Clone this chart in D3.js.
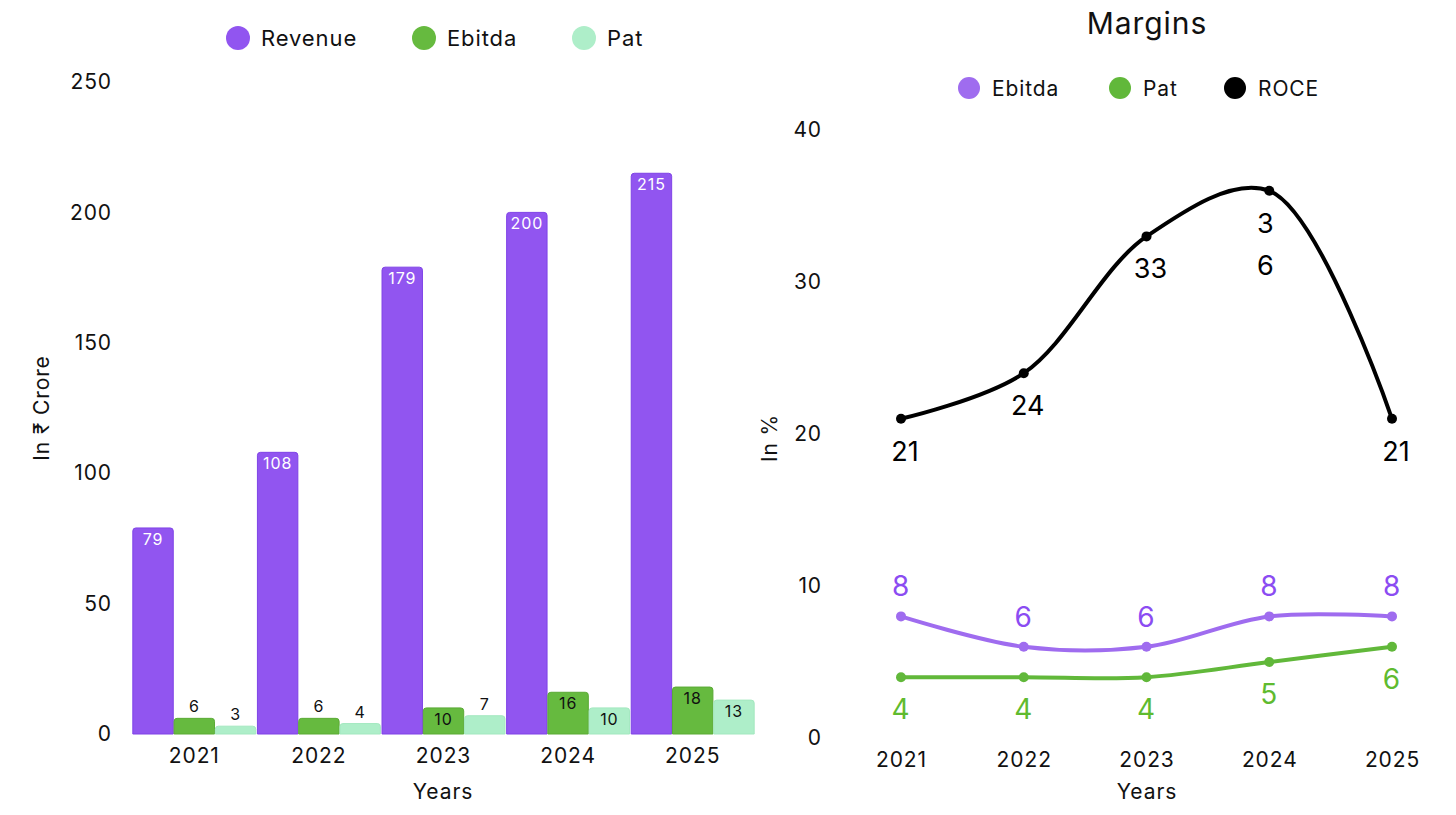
<!DOCTYPE html>
<html>
<head>
<meta charset="utf-8">
<script src="https://cdn.jsdelivr.net/npm/d3@7"></script>
<style>
  body { margin: 0; background: #fff; }
  text { font-family: "Inter", "Noto Sans", sans-serif; letter-spacing: 0.9px; }
</style>
</head>
<body>
<svg id="chart" width="1456" height="815"></svg>
<script>
// data
const years = ["2021", "2022", "2023", "2024", "2025"];
const revenue = [79, 108, 179, 200, 215];
const ebitda = [6, 6, 10, 16, 18];
const pat = [3, 4, 7, 10, 13];
const barSeries = ["Revenue", "Ebitda", "Pat"];
const revTicks = [0, 50, 100, 150, 200, 250];

const ebitdaMargin = [8, 6, 6, 8, 8];
const patMargin = [4, 4, 4, 5, 6];
const roce = [21, 24, 33, 36, 21];
const lineSeries = ["Ebitda", "Pat", "ROCE"];
const pctTicks = [0, 10, 20, 30, 40];

const barColors = {Revenue: "#9155f0", Ebitda: "#66ba3f", Pat: "#aeeec9"};
const barStroke = {Revenue: "#7f43e6", Ebitda: "#5aaa35", Pat: "#a3e8bf"};
const lineColors = {Ebitda: "#9f6cef", Pat: "#61b83a", ROCE: "#000000"};
const labelColors = {Ebitda: "#8b4cf2", Pat: "#5fbb2f", ROCE: "#000000"};

let svg = d3.select("#chart");

// ---------------- left: bar chart ----------------
let x0 = d3.scaleBand().domain(years).range([132, 755]).padding(0);
let x1 = d3.scaleBand().domain(barSeries).range([0, x0.bandwidth()]).padding(0.02);
let yBar = d3.scaleLinear().domain([0, 250]).range([734, 82]);

let left = svg.append("g").attr("id", "bar_chart");

// legend
let legL = left.append("g");
let legLX = [238, 424, 584];
barSeries.forEach(function(s, i) {
    legL.append("circle").attr("cx", legLX[i]).attr("cy", 38).attr("r", 12).attr("fill", barColors[s]);
    legL.append("text").attr("x", legLX[i] + 23).attr("y", 46).attr("font-size", 22).attr("fill", "#111").text(s);
});

// y axis
left.append("g")
    .attr("transform", "translate(112,0)")
    .call(d3.axisLeft(yBar).tickValues(revTicks).tickSize(0).tickPadding(0))
    .call(g => g.select(".domain").remove())
    .call(g => g.selectAll("text").attr("font-size", 21).attr("fill", "#111").attr("font-family", "Inter, 'Noto Sans', sans-serif"));

// x axis
left.append("g")
    .attr("transform", "translate(0,734)")
    .call(d3.axisBottom(x0).tickSize(0).tickPadding(10))
    .call(g => g.select(".domain").remove())
    .call(g => g.selectAll("text").attr("font-size", 21).attr("fill", "#111").attr("dy", "0.9em").attr("font-family", "Inter, 'Noto Sans', sans-serif"));

left.append("text").attr("x", 443).attr("y", 799).attr("text-anchor", "middle")
    .attr("font-size", 21).attr("fill", "#111").text("Years");
left.append("text").attr("transform", "translate(49,408) rotate(-90)").attr("text-anchor", "middle")
    .attr("font-size", 21).attr("fill", "#111").text("In ₹ Crore");

let barData = [];
years.forEach(function(y, i) {
    barData.push({year: y, key: "Revenue", value: revenue[i]});
    barData.push({year: y, key: "Ebitda", value: ebitda[i]});
    barData.push({year: y, key: "Pat", value: pat[i]});
});

function topRounded(x, y, w, h, r) {
    r = Math.min(r, h);
    return "M" + x + "," + (y + h) + "V" + (y + r) + "Q" + x + "," + y + " " + (x + r) + "," + y +
        "H" + (x + w - r) + "Q" + (x + w) + "," + y + " " + (x + w) + "," + (y + r) + "V" + (y + h) + "Z";
}

left.selectAll(".bar").data(barData).enter().append("path")
    .attr("class", "bar")
    .attr("d", d => topRounded(x0(d.year) + x1(d.key), yBar(d.value), x1.bandwidth(), yBar(0) - yBar(d.value), 3))
    .attr("fill", d => barColors[d.key])
    .attr("stroke", d => barStroke[d.key])
    .attr("stroke-width", 1);

left.selectAll(".barlabel").data(barData).enter().append("text")
    .attr("class", "barlabel")
    .attr("x", d => x0(d.year) + x1(d.key) + x1.bandwidth() / 2)
    .attr("y", function(d) {
        let h = yBar(0) - yBar(d.value);
        return h > 22 ? yBar(d.value) + 17 : yBar(d.value) - 6;
    })
    .attr("text-anchor", "middle")
    .attr("font-size", 16)
    .attr("fill", d => d.key === "Revenue" ? "#fff" : "#111")
    .text(d => d.value);

// ---------------- right: line chart ----------------
let xl = d3.scalePoint().domain(years).range([901, 1392]);
let yl = d3.scaleLinear().domain([0, 40]).range([738, 130]);

let right = svg.append("g").attr("id", "line_chart");

right.append("text").attr("x", 1147).attr("y", 34).attr("text-anchor", "middle")
    .attr("font-size", 30).attr("fill", "#111").text("Margins");

let legRX = [969, 1120, 1235];
lineSeries.forEach(function(s, i) {
    right.append("circle").attr("cx", legRX[i]).attr("cy", 88).attr("r", 11).attr("fill", lineColors[s]);
    right.append("text").attr("x", legRX[i] + 23).attr("y", 96).attr("font-size", 21).attr("fill", "#111").text(s);
});

right.append("g")
    .attr("transform", "translate(822,0)")
    .call(d3.axisLeft(yl).tickValues(pctTicks).tickSize(0).tickPadding(0))
    .call(g => g.select(".domain").remove())
    .call(g => g.selectAll("text").attr("font-size", 21).attr("fill", "#111").attr("font-family", "Inter, 'Noto Sans', sans-serif"));

right.append("g")
    .attr("transform", "translate(0,738)")
    .call(d3.axisBottom(xl).tickSize(0).tickPadding(10))
    .call(g => g.select(".domain").remove())
    .call(g => g.selectAll("text").attr("font-size", 21).attr("fill", "#111").attr("dy", "0.9em").attr("font-family", "Inter, 'Noto Sans', sans-serif"));

right.append("text").attr("x", 1147).attr("y", 799).attr("text-anchor", "middle")
    .attr("font-size", 21).attr("fill", "#111").text("Years");
right.append("text").attr("transform", "translate(777,438) rotate(-90)").attr("text-anchor", "middle")
    .attr("font-size", 21).attr("fill", "#111").text("In %");

let line = d3.line()
    .x((d, i) => xl(years[i]))
    .y(d => yl(d))
    .curve(d3.curveCatmullRom.alpha(0.5));

let lineData = {Ebitda: ebitdaMargin, Pat: patMargin, ROCE: roce};

lineSeries.forEach(function(s) {
    let g = right.append("g");
    g.append("path").datum(lineData[s])
        .attr("d", line)
        .attr("fill", "none")
        .attr("stroke", lineColors[s])
        .attr("stroke-width", 4);
    g.selectAll("circle").data(lineData[s]).enter().append("circle")
        .attr("cx", (d, i) => xl(years[i]))
        .attr("cy", d => yl(d))
        .attr("r", 5)
        .attr("fill", lineColors[s]);
});

// labels
right.selectAll(".elab").data(ebitdaMargin).enter().append("text")
    .attr("x", (d, i) => xl(years[i]))
    .attr("y", d => yl(d) - 20)
    .attr("text-anchor", "middle").attr("font-size", 28)
    .attr("fill", labelColors.Ebitda).text(d => d);

right.selectAll(".plab").data(patMargin).enter().append("text")
    .attr("x", (d, i) => xl(years[i]))
    .attr("y", d => yl(d) + 42)
    .attr("text-anchor", "middle").attr("font-size", 28)
    .attr("fill", labelColors.Pat).text(d => d);

right.selectAll(".rlab").data(roce).enter().append("text")
    .attr("x", (d, i) => xl(years[i]) + 4)
    .attr("y", d => yl(d) + 42)
    .attr("text-anchor", "middle").attr("font-size", 27)
    .attr("font-family", "DejaVu Sans")
    .style("letter-spacing", "0px")
    .attr("fill", labelColors.ROCE)
    .each(function(d, i) {
        let t = d3.select(this);
        if (i === 3) {
            // label wraps onto two lines in the original
            String(d).split("").forEach(function(c, k) {
                t.append("tspan").attr("x", xl(years[i]) - 4).attr("dy", k === 0 ? 0 : 42).text(c);
            });
        } else {
            t.text(d);
        }
    });
</script>
</body>
</html>
